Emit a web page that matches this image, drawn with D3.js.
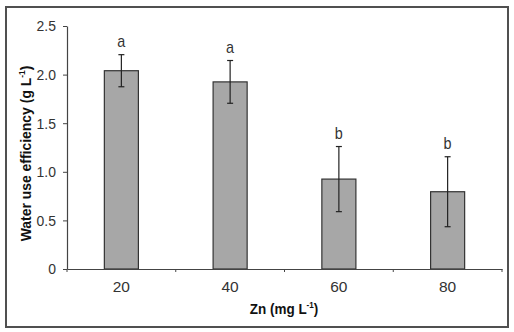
<!DOCTYPE html>
<html><head><meta charset="utf-8">
<script src="https://cdn.jsdelivr.net/npm/d3@7"></script>
<style>
html,body{margin:0;padding:0;background:#fff;}
svg{display:block;}
text{font-family:"Liberation Sans Narrow","Arial Narrow","Liberation Sans",Arial,sans-serif;}
</style></head><body>
<svg id="c" width="514" height="332"></svg>
<script>
const categories = ["20","40","60","80"];
const values = [2.04, 1.925, 0.925, 0.795];
const errors = [0.165, 0.22, 0.335, 0.36];
const letters = ["a","a","b","b"];
const yTicks = [0, 0.5, 1.0, 1.5, 2.0, 2.5];
const yTickLabels = ["0","0.5","1.0","1.5","2.0","2.5"];

const svg = d3.select("#c");
// frame
svg.append("rect").attr("x",6).attr("y",7).attr("width",502).attr("height",320)
  .attr("fill","#fff").attr("stroke","#505050").attr("stroke-width",2);

const mLeft = 67, mRight = 502, mTop = 26, mBottom = 269;
const x = d3.scaleBand().domain(categories).range([mLeft,mRight]).paddingInner(0.687).paddingOuter(0.3435);
const y = d3.scaleLinear().domain([0,2.5]).range([mBottom,mTop]);

// bars
svg.selectAll("rect.bar").data(categories).enter().append("rect")
  .attr("class","bar")
  .attr("x",d=>x(d)).attr("width",x.bandwidth())
  .attr("y",(d,i)=>y(values[i])).attr("height",(d,i)=>y(0)-y(values[i]))
  .attr("fill","#a7a7a7").attr("stroke","#333").attr("stroke-width",1.2);

// error bars
const eg = svg.append("g").attr("stroke","#222").attr("stroke-width",1.2);
categories.forEach((c,i)=>{
  const cx = x(c)+x.bandwidth()/2;
  const y1 = y(values[i]+errors[i]), y2 = y(values[i]-errors[i]);
  eg.append("line").attr("x1",cx).attr("x2",cx).attr("y1",y1).attr("y2",y2);
  eg.append("line").attr("x1",cx-3).attr("x2",cx+3).attr("y1",y1).attr("y2",y1);
  eg.append("line").attr("x1",cx-3).attr("x2",cx+3).attr("y1",y2).attr("y2",y2);
  svg.append("text").attr("transform",`translate(${cx},${y1-8}) scale(0.9,1)`).attr("text-anchor","middle")
    .attr("font-size",16).attr("fill","#333").text(letters[i]);
});

// y axis
const ya = svg.append("g").attr("transform",`translate(${mLeft},0)`)
  .call(d3.axisLeft(y).tickValues(yTicks).tickFormat((d,i)=>yTickLabels[i]).tickSize(4).tickSizeOuter(0));
ya.select(".domain").attr("stroke","#444").attr("stroke-width",1.2);
ya.selectAll(".tick line").attr("stroke","#444");
ya.selectAll(".tick text").attr("font-size",15.5).attr("fill","#333")
  .attr("x",0).attr("transform","translate(-11,0) scale(0.9,1)");

// x axis
const xa = svg.append("g").attr("transform",`translate(0,${mBottom})`)
  .call(d3.axisBottom(x).tickSize(0).tickSizeOuter(0));
xa.select(".domain").attr("stroke","#444").attr("stroke-width",1.2);
xa.selectAll(".tick text").attr("font-size",15.5).attr("fill","#333")
  .attr("y",0).attr("dy",null).attr("transform","translate(0,22.5)");
// boundary ticks between categories
const step = x.step();
const bounds = d3.range(categories.length+1).map(i=>mLeft + i*step);
svg.append("g").selectAll("line").data(bounds).enter().append("line")
  .attr("x1",d=>d).attr("x2",d=>d).attr("y1",mBottom).attr("y2",mBottom+3)
  .attr("stroke","#444").attr("stroke-width",1);
svg.selectAll("g[font-family]").attr("font-family",null);

// axis titles
svg.append("text").attr("transform","translate(284,313.5) scale(0.9,1)").attr("text-anchor","middle")
  .attr("font-size",15).attr("font-weight","bold").attr("fill","#111")
  .html('Zn (mg L<tspan dy="-6" font-size="9">-1</tspan><tspan dy="6">)</tspan>');
svg.append("text").attr("transform","translate(31,153.5) rotate(-90) scale(0.93,1)").attr("text-anchor","middle")
  .attr("font-size",15).attr("font-weight","bold").attr("fill","#111")
  .html('Water use efficiency (g L<tspan dy="-6" font-size="9">-1</tspan><tspan dy="6">)</tspan>');
</script>
</body></html>
